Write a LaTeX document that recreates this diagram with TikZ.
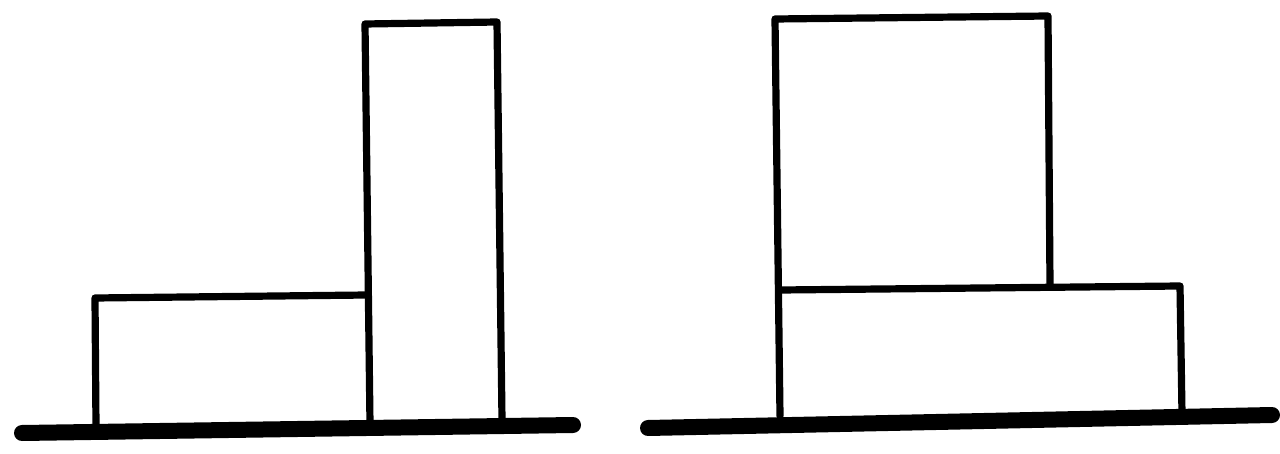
\documentclass[tikz,border=0pt]{standalone}
\begin{document}
\begin{tikzpicture}[x=0.5pt,y=-0.5pt,
  edge/.style={line width=3.6pt,line join=round,line cap=round},
  ground/.style={line width=8pt,line cap=round}]
\useasboundingbox (0,0) rectangle (1280,454);
% left figure
\coordinate (g1a) at (22,433); \coordinate (g1b) at (573,425);
\draw[ground] (g1a) -- (g1b);
\draw[edge] (96,427) -- (95,298) -- (367,295);
\draw[edge] (370,424) -- (365,24) -- (497,22) -- (502,420);
% right figure
\coordinate (g2a) at (648,428); \coordinate (g2b) at (1272,415);
\draw[ground] (g2a) -- (g2b);
\draw[edge] (780,416) -- (775,19) -- (1048,16) -- (1050,285);
\draw[edge] (781,290) -- (1180,286) -- (1182,414);
\end{tikzpicture}
\end{document}
